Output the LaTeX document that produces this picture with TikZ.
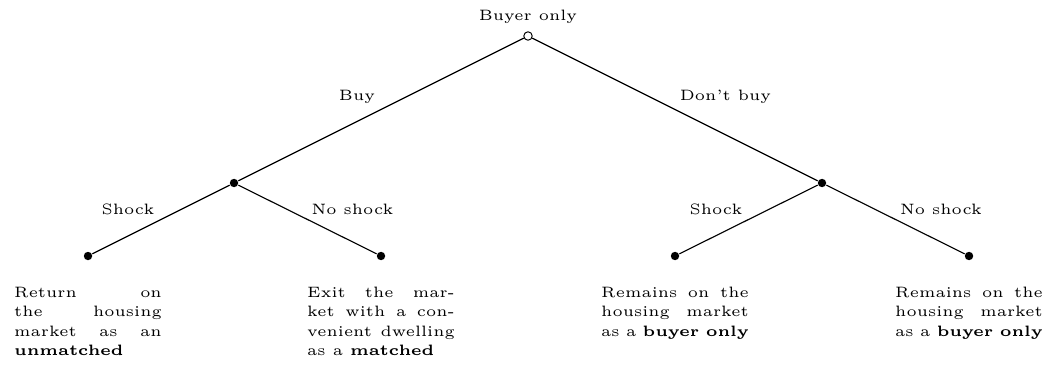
\documentclass[tikz,border=0pt]{standalone}
\begin{document}
\begin{tikzpicture}[x=0.309pt,y=-0.309pt,
  every node/.style={font=\fontsize{4.65}{6}\selectfont},
  opendot/.style={circle,draw,fill=white,inner sep=0pt,minimum size=2.6pt,line width=0.3pt},
  fulldot/.style={circle,fill=black,inner sep=0pt,minimum size=2.6pt},
  lbl/.style={anchor=base,inner sep=0pt},
  leaftext/.style={anchor=base,inner sep=0pt,text width=45.6pt,align=justify},
  branch/.style={line width=0.35pt}]
\useasboundingbox (0,0) rectangle (1060,367);
\node[opendot] (root) at (528,36) {};
\node[fulldot] (buy) at (234,183) {};
\node[fulldot] (dbuy) at (822,183) {};
\node[fulldot] (l1) at (88,256) {};
\node[fulldot] (l2) at (381,256) {};
\node[fulldot] (l3) at (675,256) {};
\node[fulldot] (l4) at (969,256) {};
\draw[branch] (root) -- (buy);
\draw[branch] (root) -- (dbuy);
\draw[branch] (buy) -- (l1);
\draw[branch] (buy) -- (l2);
\draw[branch] (dbuy) -- (l3);
\draw[branch] (dbuy) -- (l4);
\node[lbl] (troot) at (528,21) {Buyer only};
\node[lbl] (tbuy) at (357,100.7) {Buy};
\node[lbl] (tdbuy) at (725.5,100.7) {Don't buy};
\node[lbl] (ts1) at (128,214.3) {Shock};
\node[lbl] (tn1) at (352.5,214.3) {No shock};
\node[lbl] (ts2) at (716,214.3) {Shock};
\node[lbl] (tn2) at (941,214.3) {No shock};
\node[leaftext] (x1) at (88,297.5) {Return on the housing market as an \textbf{unmatched}};
\node[leaftext] (x2) at (381,297.5) {Exit the market with a convenient dwelling as a \textbf{matched}};
\node[leaftext] (x3) at (675,297.5) {Remains on the housing market as a \textbf{buyer only}};
\node[leaftext] (x4) at (969,297.5) {Remains on the housing market as a \textbf{buyer only}};
\end{tikzpicture}
\end{document}
